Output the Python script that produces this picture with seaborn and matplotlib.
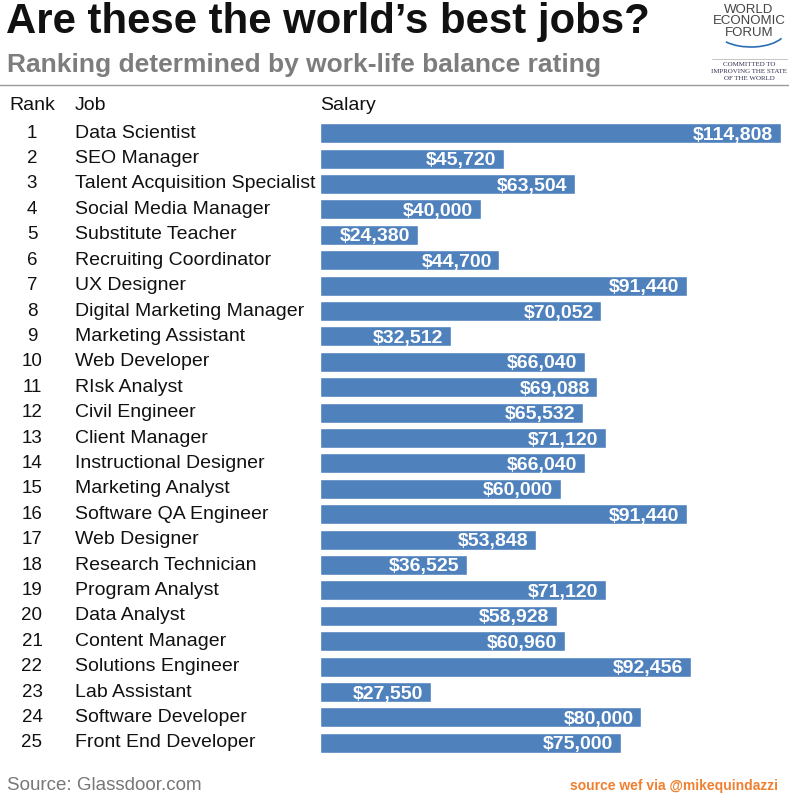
import pandas as pd
import matplotlib.pyplot as plt
import matplotlib.transforms as mtransforms
from matplotlib.patches import Arc
import seaborn as sns

# data
ranks = list(range(1, 26))
jobs = ['Data Scientist', 'SEO Manager', 'Talent Acquisition Specialist',
        'Social Media Manager', 'Substitute Teacher', 'Recruiting Coordinator',
        'UX Designer', 'Digital Marketing Manager', 'Marketing Assistant',
        'Web Developer', 'RIsk Analyst', 'Civil Engineer', 'Client Manager',
        'Instructional Designer', 'Marketing Analyst', 'Software QA Engineer',
        'Web Designer', 'Research Technician', 'Program Analyst', 'Data Analyst',
        'Content Manager', 'Solutions Engineer', 'Lab Assistant',
        'Software Developer', 'Front End Developer']
salaries = [114808, 45720, 63504, 40000, 24380, 44700, 91440, 70052, 32512,
            66040, 69088, 65532, 71120, 66040, 60000, 91440, 53848, 36525,
            71120, 58928, 60960, 92456, 27550, 80000, 75000]

df = pd.DataFrame({'rank': ranks, 'job': jobs, 'salary': salaries})

sns.set_theme(style='white')
plt.rcParams['font.family'] = ['Liberation Sans', 'DejaVu Sans']

W, H = 789, 797
fig = plt.figure(figsize=(W / 100, H / 100), dpi=100)

# axes: bars run from x=320px to 781px, rows from y~120 to ~755
ax = fig.add_axes([320 / W, 1 - 755.5 / H, (781 - 320) / W, 635 / H])
sns.barplot(data=df, x='salary', y='job', orient='h', color='#4f81bd',
            saturation=1, width=0.79, ax=ax, order=jobs)
ax.set_xlim(0, max(salaries))
ax.set_ylim(24.5, -0.5)
ax.axis('off')

for i, v in enumerate(salaries):
    ax.annotate(f'${v:,}', xy=(v, i), xytext=(-5.5, 0), textcoords='offset points',
                ha='right', va='center_baseline', color='white', fontsize=14,
                fontweight='bold')

# rank and job columns, placed in figure x / data y
tr = mtransforms.blended_transform_factory(fig.transFigure, ax.transData)
for i, (r, j) in enumerate(zip(ranks, jobs)):
    fig.text(32 / W, i, str(r), transform=tr, ha='center', va='center',
             fontsize=13.5, color='#111111')
    fig.text(75 / W, i, j, transform=tr, ha='left', va='center',
             fontsize=14, color='#111111')

# column headers
hy = 1 - 106 / H
for x, lab in [(9, 'Rank'), (75, 'Job'), (320, 'Salary')]:
    fig.text(x / W, hy, lab, fontsize=14, va='center', color='#111111')

# title block
fig.text(6 / W, 1 - 22 / H, 'Are these the world\u2019s best jobs?', fontsize=30.2,
         fontweight='bold', va='center', color='#111111')
fig.text(7 / W, 1 - 65 / H, 'Ranking determined by work-life balance rating',
         fontsize=19, fontweight='bold', va='center', color='#7d7d7d')
fig.add_artist(plt.Line2D([0, 1], [1 - 85 / H, 1 - 85 / H], color='#9a9a9a',
                          lw=1, transform=fig.transFigure))

# WEF logo (text version)
lx = 749 / W
for k, word in enumerate(['WORLD', 'ECONOMIC', 'FORUM']):
    fig.text(lx, 1 - (10 + k * 11.5) / H, word, fontsize=9.5, ha='center',
             va='center', color='#444444')
fig.add_artist(Arc((751 / W, 1 - 30 / H), 70 / W, 34 / H, theta1=205, theta2=345,
                   color='#2a6fb5', lw=1.2, transform=fig.transFigure))
fig.add_artist(plt.Line2D([712 / W, 787 / W], [1 - 59 / H, 1 - 59 / H],
                          color='#bbbbbb', lw=0.6, transform=fig.transFigure))
for k, line in enumerate(['COMMITTED TO', 'IMPROVING THE STATE', 'OF THE WORLD']):
    fig.text(lx, 1 - (64 + k * 7.5) / H, line, fontsize=5.0, ha='center',
             va='center', color='#333355', family=['Liberation Serif'])

# footer
fig.text(7 / W, 1 - 786 / H, 'Source: Glassdoor.com', fontsize=13.5,
         va='center', color='#777777')
fig.text(778 / W, 1 - 786 / H, 'source wef via @mikequindazzi', fontsize=10,
         fontweight='bold', ha='right', va='center', color='#f07f2e')

fig.savefig('out.png', dpi=100)
